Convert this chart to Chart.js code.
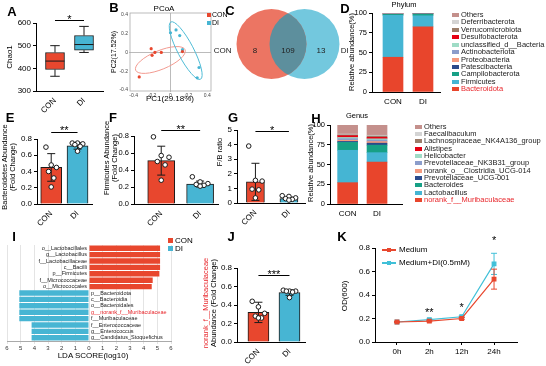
<!DOCTYPE html>
<html>
<head>
<meta charset="utf-8">
<script src="https://cdn.jsdelivr.net/npm/chart.js@4.4.1/dist/chart.umd.min.js"></script>
<style>
  body { margin: 0; background: #fff; }
  #fig { position: relative; width: 546px; height: 366px; overflow: hidden; background: #fff; font-family: "Liberation Sans", Arial, sans-serif; }
  #fig canvas { position: absolute; left: 0; top: 0; }
  .t { position: absolute; white-space: nowrap; line-height: 1.1; transform: translate(-50%, -50%); }
  .r { transform: translate(-50%, -50%) rotate(-90deg); text-align: center; }
  .sw { position: absolute; }
</style>
</head>
<body>
<div id="fig"></div>
<script>
// ---------- data ----------
const groups = ['CON', 'DI'];

// A: Chao1 box plot (Q1-Q3, median, whiskers)
const chaoBox = [[395, 470], [480, 545]];
const chaoMedian = [432, 505];
const chaoWhisker = [[365, 500], [470, 585]];

// B: PCoA scores
const pcoaCON = [[-0.21, 0.04], [-0.17, 0.0], [-0.20, -0.03], [-0.10, 0.0], [0.13, 0.01], [-0.34, -0.26]];
const pcoaDI = [[0.0, 0.21], [0.06, 0.24], [0.10, 0.18], [0.13, 0.03], [0.31, -0.16], [0.29, -0.27]];
// confidence ellipses: centre x, centre y, semi-axes, angle (deg)
const pcoaEllipse = [[-0.11, -0.08, 0.29, 0.1, 22], [0.165, 0.02, 0.345, 0.086, -62]];

// C: Venn counts (CON only, shared, DI only)
const vennCounts = [8, 109, 13];

// D: phylum relative abundance (%)
const phylumNames = ['Bacteroidota', 'Firmicutes', 'Campilobacterota', 'Patescibacteria', 'Proteobacteria',
  'Actinobacteriota', 'unclassified_d__Bacteria', 'Desulfobacterota', 'Verrucomicrobiota', 'Deferribacterota', 'Others'];
const phylumCON = [44, 53, 1.2, 0.3, 0.3, 0.3, 0.2, 0.3, 0.1, 0.1, 0.2];
const phylumDI = [82.5, 14, 2.0, 0.3, 0.3, 0.2, 0.1, 0.2, 0.1, 0.1, 0.2];

// E, F, G: abundances (bar = mean, error = SD, dots = samples)
const bactMean = [0.45, 0.715];
const bactSd = [0.17, 0.04];
const bactCON = [0.70, 0.48, 0.45, 0.40, 0.32, 0.21];
const bactDI = [0.75, 0.75, 0.74, 0.73, 0.71, 0.65];

const firmMean = [0.51, 0.235];
const firmSd = [0.17, 0.035];
const firmCON = [0.79, 0.57, 0.55, 0.50, 0.46, 0.28];
const firmDI = [0.32, 0.26, 0.24, 0.23, 0.22, 0.21];

const fbMean = [1.45, 0.3];
const fbSd = [1.27, 0.1];
const fbCON = [3.9, 1.55, 1.5, 0.95, 0.9, 0.35];
const fbDI = [0.5, 0.45, 0.35, 0.3, 0.25, 0.2];

// H: genus relative abundance (%)
const genusNames = ['norank_f__Muribaculaceae', 'Lactobacillus', 'Bacteroides', 'Prevotellaceae_UCG-001',
  'norank_o__Clostridia_UCG-014', 'Prevotellaceae_NK3B31_group', 'Helicobacter', 'Alistipes',
  'Lachnospiraceae_NK4A136_group', 'Faecalibaculum', 'Others'];
const genusCON = [27, 41, 10, 1.2, 1.5, 2.0, 1.5, 2.3, 1.0, 1.0, 11.5];
const genusDI = [53, 12, 9.5, 2.5, 2.0, 2.0, 1.5, 2.0, 1.5, 1.0, 13];

// I: LEfSe LDA scores
const ldaTaxa = ['o__Lactobacillales', 'g__Lactobacillus', 'f__Lactobacillaceae', 'c__Bacilli', 'p__Firmicutes',
  'f__Micrococcaceae', 'o__Micrococcales', 'p__Bacteroidota', 'c__Bacteroidia', 'o__Bacteroidales',
  'g__norank_f__Muribaculaceae', 'f__Muribaculaceae', 'f__Enterococcaceae', 'g__Enterococcus', 'g__Candidatus_Stoquefichus'];
const ldaScore = [5.2, 5.2, 5.2, 5.2, 5.15, 4.66, 4.59, -5.1, -5.1, -5.1, -5.1, -5.1, -4.2, -4.2, -4.2];
const ldaGroup = ['CON', 'CON', 'CON', 'CON', 'CON', 'CON', 'CON', 'DI', 'DI', 'DI', 'DI', 'DI', 'DI', 'DI', 'DI'];
const ldaHighlight = 'g__norank_f__Muribaculaceae';

// J: norank_f__Muribaculaceae abundance
const muriMean = [0.32, 0.535];
const muriSd = [0.11, 0.03];
const muriCON = [0.44, 0.38, 0.31, 0.28, 0.26, 0.26];
const muriDI = [0.56, 0.55, 0.55, 0.55, 0.54, 0.48];

// K: growth curve OD(600)
const odTimes = ['0h', '2h', '12h', '24h'];
const odMedium = [0.17, 0.178, 0.20, 0.535];
const odMediumSd = [0.005, 0.006, 0.008, 0.085];
const odDI = [0.17, 0.19, 0.215, 0.665];
const odDISd = [0.005, 0.005, 0.006, 0.09];

// ---------- styling ----------
const red = '#e8472e';
const blue = '#47b5d3';
const cyan = '#40c0d8';
const ink = '#1a1a1a';
const stackColors = ['#e8452c', '#45b5d3', '#17a086', '#2b4a8b', '#f59a7e', '#8b9dcb',
  '#9fdcc6', '#e60012', '#9b7d6a', '#d4d4d4', '#c4908c'];
const dotSpread = [-0.2, 0.0, 0.2, -0.1, 0.1, 0.0];
const fmt1 = v => v.toFixed(1);

const fig = document.getElementById('fig');
const W = 546, H = 366;
Chart.defaults.font.family = '"Liberation Sans", Arial, sans-serif';
Chart.defaults.color = '#000';
Chart.defaults.animation = false;
Chart.defaults.plugins.legend.display = false;
Chart.defaults.plugins.tooltip.enabled = false;

// axes take no room; the plot area is given by the layout padding
function fitZero(s) {
  if (s.isHorizontal()) s.height = 0; else s.width = 0;
  s.paddingLeft = s.paddingRight = s.paddingTop = s.paddingBottom = 0;
}

// let the tick labels of zero-sized axes draw outside their box
const openAxesPlugin = {
  id: 'openAxes',
  afterLayout(chart) {
    Object.values(chart.scales).forEach(s => {
      if (s.isHorizontal()) s.bottom = H; else s.left = 0;
    });
  }
};

// significance marks: line between two groups with stars, or stars alone
const sigPlugin = {
  id: 'sig',
  afterDraw(chart, args, opts) {
    const items = opts.items || [];
    const { ctx, scales: { x, y } } = chart;
    ctx.save();
    ctx.fillStyle = '#000';
    ctx.strokeStyle = '#000';
    ctx.lineWidth = 1;
    ctx.font = '11px "Liberation Sans", Arial';
    ctx.textAlign = 'center';
    ctx.textBaseline = 'alphabetic';
    items.forEach(it => {
      const py = y.getPixelForValue(it.y);
      if (it.to !== undefined) {
        const x0 = x.getPixelForValue(it.from), x1 = x.getPixelForValue(it.to);
        ctx.beginPath();
        ctx.moveTo(x0, Math.round(py) + 0.5);
        ctx.lineTo(x1, Math.round(py) + 0.5);
        ctx.stroke();
        ctx.fillText(it.text, (x0 + x1) / 2, py + 2.5);
      } else {
        ctx.fillText(it.text, x.getPixelForValue(it.from), py + 6);
      }
    });
    ctx.restore();
  }
};

// error bars and box plot whiskers
const extrasPlugin = {
  id: 'extras',
  afterDatasetDraw(chart, args) {
    const ds = chart.data.datasets[args.index];
    const meta = args.meta;
    const ys = chart.scales[meta.yAxisID];
    const ctx = chart.ctx;
    ctx.save();
    ctx.lineWidth = 1;
    ctx.strokeStyle = ds.errColor || ink;
    meta.data.forEach((el, i) => {
      const seg = (x0, y0, x1, y1) => { ctx.beginPath(); ctx.moveTo(x0, y0); ctx.lineTo(x1, y1); ctx.stroke(); };
      if (ds.errors) {
        const v = ds.data[i].y, e = ds.errors[i], c = ds.errCap || 4;
        const top = ys.getPixelForValue(v + e), bot = ys.getPixelForValue(v - e);
        seg(el.x, top, el.x, bot);
        seg(el.x - c, top, el.x + c, top);
        seg(el.x - c, bot, el.x + c, bot);
      }
      if (ds.medians) {
        const hw = el.width / 2;
        const m = ys.getPixelForValue(ds.medians[i]);
        seg(el.x - hw, m, el.x + hw, m);
        const [lo, hi] = ds.whiskers[i];
        const [q1, q3] = ds.data[i].y;
        const pl = ys.getPixelForValue(lo), ph = ys.getPixelForValue(hi);
        seg(el.x, ys.getPixelForValue(q3), el.x, ph);
        seg(el.x, ys.getPixelForValue(q1), el.x, pl);
        seg(el.x - hw / 2, ph, el.x + hw / 2, ph);
        seg(el.x - hw / 2, pl, el.x + hw / 2, pl);
      }
    });
    ctx.restore();
  }
};
Chart.register(openAxesPlugin, sigPlugin, extrasPlugin);

function makeChart(area, config) {
  const c = document.createElement('canvas');
  c.width = W;
  c.height = H;
  fig.appendChild(c);
  config.options = config.options || {};
  config.options.responsive = false;
  config.options.layout = { padding: { left: area[0], top: area[1], right: W - area[2], bottom: H - area[3] } };
  return new Chart(c, config);
}

function valAxis(min, max, step, fmt, size) {
  const ticks = { stepSize: step, font: { size: size || 8 }, padding: 2, includeBounds: false };
  if (fmt) ticks.callback = fmt;
  return {
    type: 'linear', min, max, ticks,
    grid: { drawOnChartArea: false, tickLength: 3, color: '#000' },
    border: { color: '#000', width: 1 },
    afterFit: fitZero
  };
}

// linear axis that places groups at 0, 1, 2 ... and labels them
function posAxis(min, max, labels, rot, tickColor) {
  return {
    type: 'linear', min, max, offset: false,
    afterBuildTicks: s => { s.ticks = labels.map((_, i) => ({ value: i })); },
    ticks: { callback: v => labels[v], autoSkip: false, minRotation: rot, maxRotation: rot, font: { size: 8 }, padding: 2 },
    grid: { drawOnChartArea: false, offset: false, tickLength: 3, color: tickColor },
    border: { color: '#000', width: 1 },
    afterFit: fitZero
  };
}

function dotBar(o) {
  const pts = [];
  o.points.forEach((list, g) => list.forEach((v, k) => pts.push({ x: g + dotSpread[k % dotSpread.length], y: v })));
  return makeChart(o.area, {
    type: 'bar',
    data: {
      datasets: [
        { type: 'scatter', data: pts, pointRadius: 2.3, pointBackgroundColor: '#fff', pointBorderColor: ink, pointBorderWidth: 1, clip: false, order: 0 },
        { data: o.means.map((m, g) => ({ x: g, y: m })), backgroundColor: [red, blue], borderColor: ink, borderWidth: 1,
          barThickness: o.barW, errors: o.sds, errCap: 4, order: 1 }
      ]
    },
    options: {
      scales: { x: posAxis(o.xr[0], o.xr[1], groups, 45, 'rgba(0,0,0,0)'), y: valAxis(o.y[0], o.y[1], o.y[2], o.fmt, o.tick) },
      plugins: { sig: { items: o.sig } }
    }
  });
}

function stackBar(area, xr, names, values, barW) {
  const datasets = names.map((n, k) => ({
    label: n,
    data: values.map((arr, g) => ({ x: g, y: arr[k] })),
    backgroundColor: stackColors[k], borderWidth: 0, barThickness: barW
  }));
  const x = posAxis(xr[0], xr[1], groups, 0, 'rgba(0,0,0,0)');
  x.stacked = true;
  const y = valAxis(0, 100, 25, null, 7.5);
  y.stacked = true;
  return makeChart(area, { type: 'bar', data: { datasets }, options: { scales: { x, y } } });
}

// ---------- text helpers ----------
function txt(s, cx, cy, size, opts) {
  opts = opts || {};
  const d = document.createElement('div');
  d.className = 't';
  d.textContent = s;
  d.style.left = cx + 'px';
  d.style.top = cy + 'px';
  d.style.fontSize = size + 'px';
  if (opts.bold) d.style.fontWeight = 'bold';
  if (opts.color) d.style.color = opts.color;
  if (opts.left) d.style.transform = 'translate(0, -50%)';
  fig.appendChild(d);
}

function rotText(lines, cx, cy, size, colors) {
  const d = document.createElement('div');
  d.className = 't r';
  d.style.left = cx + 'px';
  d.style.top = cy + 'px';
  d.style.fontSize = size + 'px';
  lines.forEach((s, i) => {
    const p = document.createElement('div');
    p.textContent = s;
    p.style.color = (colors && colors[i]) || '#000';
    d.appendChild(p);
  });
  fig.appendChild(d);
}

function swatch(x, y, w, h, color) {
  const d = document.createElement('div');
  d.className = 'sw';
  d.style.cssText += `left:${x}px;top:${y}px;width:${w}px;height:${h}px;background:${color}`;
  fig.appendChild(d);
}

function stackLegend(names, left, top, step) {
  names.forEach((n, k) => {
    const y = top + (names.length - 1 - k) * step;
    swatch(left, y - 2, 7, 4, stackColors[k]);
    txt(n, left + 9, y, 7.5, { left: true, color: k === 0 ? '#e8262b' : '#222' });
  });
}

// ---------- A ----------
makeChart([36, 23, 103, 91], {
  type: 'bar',
  data: {
    datasets: [{
      data: chaoBox.map((b, g) => ({ x: g, y: b })), backgroundColor: [red, blue], borderColor: ink,
      borderWidth: 1, borderSkipped: false, barThickness: 19, medians: chaoMedian, whiskers: chaoWhisker
    }]
  },
  options: {
    scales: { x: posAxis(-0.655, 1.655, groups, 45, 'rgba(0,0,0,0)'), y: valAxis(300, 600, 100) },
    plugins: { sig: { items: [{ from: 0, to: 1, y: 612, text: '*' }] } }
  }
});
rotText(['Chao1'], 10, 57, 8);

// ---------- B ----------
const pcoaGrid = c => (c.tick && Math.abs(c.tick.value) < 1e-9 ? '#bbb' : 'rgba(0,0,0,0)');
const pcoaAxis = (min, max) => ({
  min, max,
  ticks: { stepSize: 0.2, font: { size: 5 }, color: '#444', padding: 1, includeBounds: false },
  grid: { color: pcoaGrid, tickLength: 1 },
  border: { display: false },
  afterFit: fitZero
});
makeChart([130, 13, 211, 91], {
  type: 'scatter',
  data: {
    datasets: [
      { data: pcoaCON.map(p => ({ x: p[0], y: p[1] })), pointRadius: 1.6, backgroundColor: red, borderWidth: 0 },
      { data: pcoaDI.map(p => ({ x: p[0], y: p[1] })), pointRadius: 1.6, backgroundColor: blue, borderWidth: 0 }
    ]
  },
  options: { scales: { x: pcoaAxis(-0.44, 0.44), y: pcoaAxis(-0.41, 0.42) } },
  plugins: [{
    id: 'pcoaDecor',
    beforeDatasetsDraw(chart) {
      const { ctx, chartArea: a, scales: { x, y } } = chart;
      ctx.save();
      ctx.strokeStyle = '#aaa';
      ctx.lineWidth = 0.8;
      ctx.strokeRect(a.left, a.top, a.right - a.left, a.bottom - a.top);
      const kx = x.getPixelForValue(1) - x.getPixelForValue(0);
      const ky = y.getPixelForValue(0) - y.getPixelForValue(1);
      ['#f29a90', '#4fbcd6'].forEach((col, i) => {
        const [cx, cy, ra, rb, ang] = pcoaEllipse[i];
        ctx.save();
        ctx.translate(x.getPixelForValue(cx), y.getPixelForValue(cy));
        ctx.scale(kx, -ky);
        ctx.rotate(ang * Math.PI / 180);
        ctx.beginPath();
        ctx.ellipse(0, 0, ra, rb, 0, 0, Math.PI * 2);
        ctx.restore();
        ctx.strokeStyle = col;
        ctx.lineWidth = 1;
        ctx.stroke();
      });
      ctx.restore();
    }
  }]
});
txt('PCoA', 164, 9, 8);
txt('PC1(29.18%)', 170, 99, 8);
rotText(['PC2(17.52%)'], 114, 52, 7);
swatch(207, 12.5, 4, 4, red);
txt('CON', 212, 14.5, 7, { left: true });
swatch(207, 21, 4, 4, blue);
txt('DI', 212, 23, 7, { left: true });

// ---------- C ----------
const vennRadius = 1.06;
makeChart([222, 0, 354, 88], {
  type: 'scatter',
  data: {
    datasets: groups.map((g, i) => ({
      label: g,
      data: [{ x: i - 0.5, y: 0 }],
      backgroundColor: i === 0 ? '#ec7563' : '#73c8de',
      borderWidth: 0,
      pointRadius: ctx => Math.abs(ctx.chart.scales.x.getPixelForValue(vennRadius) - ctx.chart.scales.x.getPixelForValue(0))
    }))
  },
  options: { scales: { x: { display: false, min: -2, max: 2 }, y: { display: false, min: -1.33, max: 1.33 } } },
  plugins: [{
    id: 'venn',
    afterDatasetsDraw(chart) {
      const { ctx, scales: { x, y } } = chart;
      const a = chart.getDatasetMeta(0).data[0], b = chart.getDatasetMeta(1).data[0];
      ctx.save();
      ctx.beginPath();
      ctx.arc(a.x, a.y, a.options.radius, 0, Math.PI * 2);
      ctx.clip();
      ctx.beginPath();
      ctx.arc(b.x, b.y, b.options.radius, 0, Math.PI * 2);
      ctx.fillStyle = '#5d8f9d';
      ctx.fill();
      ctx.restore();
      ctx.save();
      ctx.fillStyle = '#222';
      ctx.font = '8px "Liberation Sans", Arial';
      ctx.textAlign = 'center';
      ctx.textBaseline = 'middle';
      const ty = y.getPixelForValue(-0.2);
      vennCounts.forEach((n, i) => ctx.fillText(String(n), x.getPixelForValue(i - 1), ty));
      ctx.fillText(groups[0], x.getPixelForValue(-1.98), ty);
      ctx.fillText(groups[1], x.getPixelForValue(1.72), ty);
      ctx.restore();
    }
  }]
});

// ---------- D ----------
stackBar([372, 13, 440, 92], [-0.7, 1.567], phylumNames, [phylumCON, phylumDI], 20);
txt('Phylum', 404, 5, 7.5);
rotText(['Relative abundance(%)'], 352, 52, 7.5);
stackLegend(phylumNames, 452, 15, 7.43);

// ---------- E ----------
dotBar({ area: [37, 139, 92, 204], xr: [-0.54, 1.55], barW: 21, y: [0, 0.8, 0.2], fmt: fmt1,
  means: bactMean, sds: bactSd, points: [bactCON, bactDI], sig: [{ from: 0, to: 1, y: 0.89, text: '**' }] });
rotText(['Bacteroidetes  Abundance', '(Fold Change)'], 9, 167, 7.5);

// ---------- F ----------
dotBar({ area: [134, 136, 218, 204], xr: [-0.7, 1.46], barW: 27, y: [0, 0.8, 0.2], fmt: fmt1, tick: 7.5,
  means: firmMean, sds: firmSd, points: [firmCON, firmDI], sig: [{ from: 0, to: 1, y: 0.87, text: '**' }] });
rotText(['Firmicutes  Abundance', '(Fold Change)'], 111, 158, 7.5);

// ---------- G ----------
dotBar({ area: [237, 130, 305, 203], xr: [-0.55, 1.48], barW: 18, y: [0, 5, 1],
  means: fbMean, sds: fbSd, points: [fbCON, fbDI], sig: [{ from: 0, to: 1, y: 4.9, text: '*' }] });
rotText(['F/B ratio'], 220, 152, 7.5);

// ---------- H ----------
stackBar([330, 125, 402, 204], [-0.6, 1.85], genusNames, [genusCON, genusDI], 20);
txt('Genus', 357, 116, 7.5);
rotText(['Relative abundance(%)'], 311, 163, 7.5);
stackLegend(genusNames, 415, 126.7, 7.33);

// ---------- I ----------
makeChart([7, 245, 171, 341], {
  type: 'bar',
  data: {
    labels: ldaTaxa,
    datasets: [{ data: ldaScore, backgroundColor: ldaGroup.map(g => (g === 'CON' ? red : blue)), barPercentage: 0.84, categoryPercentage: 1 }]
  },
  options: {
    indexAxis: 'y',
    scales: {
      x: {
        min: -6, max: 6,
        ticks: { stepSize: 1, font: { size: 6 }, color: '#333', padding: 1, callback: v => Math.abs(v) },
        grid: { color: '#e4e4e4', tickLength: 3 },
        border: { color: '#aaa' },
        afterFit: fitZero
      },
      y: { display: false }
    }
  },
  plugins: [{
    id: 'ldaLabels',
    afterDatasetsDraw(chart) {
      const { ctx, scales: { x, y } } = chart;
      const x0 = x.getPixelForValue(0);
      ctx.save();
      ctx.font = '5.5px "Liberation Sans", Arial';
      ctx.textBaseline = 'middle';
      ldaTaxa.forEach((t, i) => {
        const con = ldaGroup[i] === 'CON';
        ctx.textAlign = con ? 'right' : 'left';
        ctx.fillStyle = t === ldaHighlight ? '#e8262b' : '#222';
        ctx.fillText(t, con ? x0 - 2 : x0 + 2, y.getPixelForValue(i));
      });
      ctx.restore();
    }
  }]
});
txt('LDA SCORE(log10)', 93, 356, 8);
swatch(168, 238, 5, 5, red);
txt('CON', 175, 240.5, 8, { left: true });
swatch(168, 246, 5, 5, blue);
txt('DI', 175, 248.5, 8, { left: true });

// ---------- J ----------
dotBar({ area: [237, 268, 305, 342], xr: [-0.69, 1.5], barW: 21, y: [0, 0.8, 0.2], fmt: fmt1,
  means: muriMean, sds: muriSd, points: [muriCON, muriDI], sig: [{ from: 0, to: 1, y: 0.72, text: '***' }] });
rotText(['norank_f__Muribaculaceae', 'Abundance (Fold Change)'], 210, 303, 7.5, ['#e8262b', '#000']);

// ---------- K ----------
makeChart([375, 248, 517, 342], {
  type: 'line',
  data: {
    datasets: [
      { label: 'Medium', data: odMedium.map((v, i) => ({ x: i, y: v })), borderColor: red, backgroundColor: red,
        borderWidth: 1.2, pointStyle: 'rect', pointRadius: 2.6, errors: odMediumSd, errCap: 3, errColor: red },
      { label: 'Medium+DI(0.5mM)', data: odDI.map((v, i) => ({ x: i, y: v })), borderColor: cyan, backgroundColor: cyan,
        borderWidth: 1.2, pointStyle: 'rect', pointRadius: 2.6, errors: odDISd, errCap: 3, errColor: cyan }
    ]
  },
  options: {
    scales: { x: posAxis(-0.68, 3.71, odTimes, 0, '#000'), y: valAxis(0, 0.8, 0.2, fmt1) },
    plugins: { sig: { items: [{ from: 1, y: 0.27, text: '**' }, { from: 2, y: 0.315, text: '*' }, { from: 3, y: 0.885, text: '*' }] } }
  }
});
rotText(['OD(600)'], 345, 296, 8);
[[red, 'Medium', 250], [cyan, 'Medium+DI(0.5mM)', 263]].forEach(([col, name, y]) => {
  swatch(382, y - 0.6, 14, 1.2, col);
  swatch(387, y - 2, 4, 4, col);
  txt(name, 399, y, 8, { left: true });
});

// ---------- panel letters ----------
[['A', 12, 12], ['B', 114, 8], ['C', 230, 11], ['D', 345, 9], ['E', 10, 118], ['F', 113, 118],
 ['G', 233, 118], ['H', 316, 119], ['I', 14, 237], ['J', 231, 237], ['K', 342, 237]]
  .forEach(([s, x, y]) => txt(s, x, y, 13, { bold: true }));
</script>
</body>
</html>
